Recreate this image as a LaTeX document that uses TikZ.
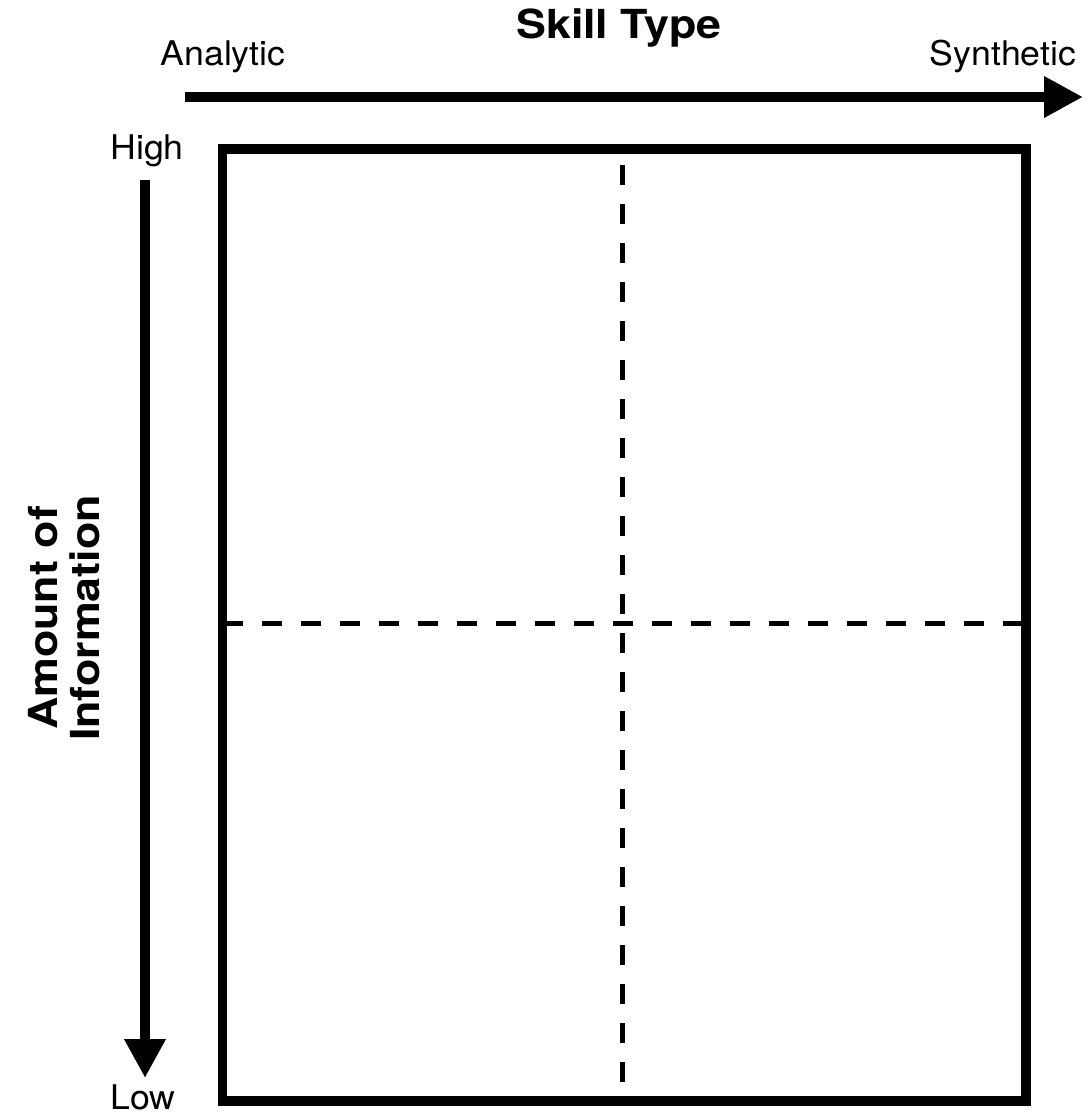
\documentclass[tikz,border=0pt]{standalone}
\usepackage{fontspec}
\setmainfont{TeX Gyre Heros}[FakeStretch=1.05]
\newfontfamily\headfont{TeX Gyre Heros}[FakeStretch=1.12]
\usetikzlibrary{arrows.meta}

\begin{document}
\begin{tikzpicture}[x=1pt,y=-1pt,
    axis/.style={line width=10.5pt,-{Triangle[length=39pt,width=39pt]}},
    frame/.style={draw,line width=9.5pt,minimum width=803.5pt,minimum height=952pt,inner sep=0pt,outer sep=0pt},
    split/.style={line width=5pt,dash pattern=on 20pt off 19pt},
    tick/.style={font=\fontsize{34}{40}\selectfont},
    title/.style={font=\headfont\bfseries\fontsize{40}{42}\selectfont}]
    \useasboundingbox (0,0) rectangle (1088,1116);

    % labels
    \node[title,anchor=base] (skill) at (619,39) {Skill Type};
    \node[tick,anchor=base] (analytic) at (223,66) {Analytic};
    \node[tick,anchor=base] (synthetic) at (1003,66) {Synthetic};
    \node[tick,anchor=base] (high) at (147,159) {High};
    \node[tick,anchor=base] (low) at (143,1109) {Low};
    \node[title,rotate=90,align=center] (info) at (64,618) {Amount of\\Information};

    % axes
    \coordinate (xfrom) at (185,97);
    \coordinate (xto) at (1083,97);
    \coordinate (yfrom) at (145,180);
    \coordinate (yto) at (145,1078);
    \draw[axis] (xfrom) -- (xto);
    \draw[axis] (yfrom) -- (yto);

    % quadrants
    \node[frame] (grid) at (624.25,625) {};
    \coordinate (mid) at (622,623);
    \draw[split,dash phase=23pt] (mid |- grid.north) -- (mid |- grid.south);
    \draw[split] (grid.west |- mid) -- (grid.east |- mid);
\end{tikzpicture}
\end{document}
